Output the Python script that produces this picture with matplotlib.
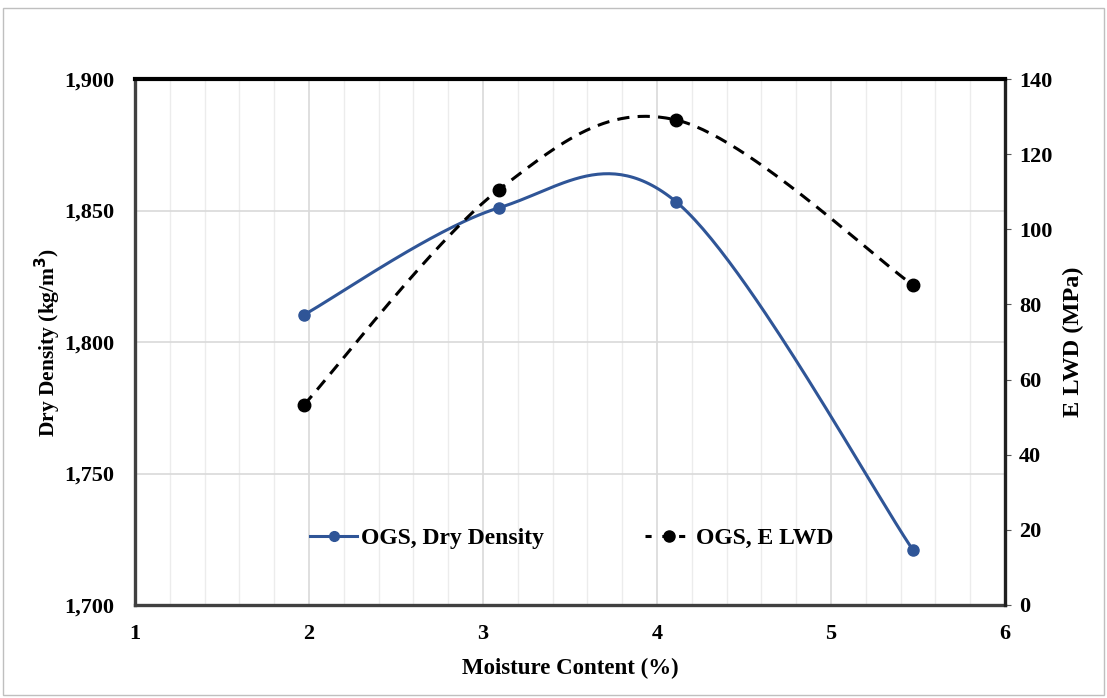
import numpy as np
import matplotlib.pyplot as plt
from matplotlib.patches import Rectangle
from matplotlib.lines import Line2D

# Datos
humedad_dd = [1.97, 3.09, 4.11, 5.47]
densidad_seca = [1810.3, 1851.0, 1853.3, 1721.0]
humedad_e = [1.97, 3.09, 4.11, 5.47]
e_lwd = [53.2, 110.5, 129.1, 85.2]

x_ticks = [1, 2, 3, 4, 5, 6]
y_izq_ticks = [1700, 1750, 1800, 1850, 1900]
y_der_ticks = [0, 20, 40, 60, 80, 100, 120, 140]


# Curva suavizada tipo Excel (Catmull-Rom -> Bezier)
def suavizar(x, y, n=60):
    p = np.column_stack([x, y]).astype(float)
    p = np.vstack([p[0], p, p[-1]])
    xs, ys = [], []
    t = np.linspace(0, 1, n)
    for i in range(1, len(p) - 2):
        p0, p1, p2, p3 = p[i - 1], p[i], p[i + 1], p[i + 2]
        c1 = p1 + (p2 - p0) / 6
        c2 = p2 - (p3 - p1) / 6
        b = ((1 - t) ** 3)[:, None] * p1 + (3 * (1 - t) ** 2 * t)[:, None] * c1 \
            + (3 * (1 - t) * t ** 2)[:, None] * c2 + (t ** 3)[:, None] * p2
        xs.extend(b[:, 0])
        ys.extend(b[:, 1])
    return xs, ys


plt.rcParams['font.family'] = ['Liberation Serif', 'DejaVu Serif']
plt.rcParams['font.weight'] = 'bold'

fig = plt.figure(figsize=(11.07, 6.98), dpi=100)
ax = fig.add_axes([135 / 1107, 1 - 605 / 698, 870 / 1107, 526 / 698])
ax2 = ax.twinx()

# borde del área del gráfico
fig.patches.append(Rectangle((3 / 1107, 0.005), 1 - 6 / 1107, 1 - 8 / 698 - 0.005,
                             transform=fig.transFigure, fill=False,
                             edgecolor='#bfbfbf', linewidth=1))

azul = '#2f5597'
xs, ys = suavizar(humedad_dd, densidad_seca)
ax.plot(xs, ys, color=azul, linewidth=2.2, zorder=3)
ax.plot(humedad_dd, densidad_seca, 'o', color=azul, markersize=8, zorder=4)

xs2, ys2 = suavizar(humedad_e, e_lwd)
ax2.plot(xs2, ys2, color='black', linewidth=2.2, linestyle=(0, (4, 2.7)), zorder=3)
ax2.plot(humedad_e, e_lwd, 'o', color='black', markersize=9, zorder=4)

ax.set_xlim(1, 6)
ax.set_ylim(1700, 1900)
ax2.set_ylim(0, 140)
ax.set_xticks(x_ticks)
ax.set_xticks(np.arange(1, 6.01, 0.2), minor=True)
ax.set_yticks(y_izq_ticks)
ax.set_yticklabels([f'{v:,}' for v in y_izq_ticks])
ax2.set_yticks(y_der_ticks)

ax.grid(True, which='major', color='#d9d9d9', linewidth=1.2)
ax.grid(True, which='minor', axis='x', color='#ececec', linewidth=1)
ax.set_axisbelow(True)

ax.tick_params(axis='both', which='both', length=0, labelsize=16)
ax.tick_params(axis='y', pad=15)
ax.tick_params(axis='x', pad=14)
ax2.tick_params(axis='y', length=4, labelsize=16, pad=6, color='#595959')

for s in ['left', 'bottom']:
    ax.spines[s].set_color('#404040')
    ax.spines[s].set_linewidth(2.4)
ax2.spines['top'].set_linewidth(3)
ax2.spines['top'].set_color('black')
ax2.spines['right'].set_linewidth(2.4)
ax2.spines['right'].set_color('#202020')
ax2.spines['left'].set_visible(False)
ax2.spines['bottom'].set_visible(False)

ax.set_xlabel('Moisture Content (%)', fontsize=16.5, fontweight='bold', labelpad=10)
ax.set_ylabel('Dry Density (kg/m$^\\mathbf{3}$)', fontsize=15.5, fontweight='bold', labelpad=1)
ax2.set_ylabel('E LWD (MPa)', fontsize=17.5, fontweight='bold', labelpad=8)

h1 = Line2D([], [], color=azul, linewidth=2.2, marker='o', markersize=7)
h2 = Line2D([], [], color='black', linewidth=2.2, linestyle=(0, (2, 3.5)), marker='o', markersize=8)
ax2.legend([h1, h2], ['OGS, Dry Density', 'OGS, E LWD'], loc='center',
           bbox_to_anchor=(0.502, 0.127), ncol=2, frameon=False, fontsize=17,
           handlelength=2.0, handletextpad=0.15, columnspacing=4.3)

fig.savefig('out.png', dpi=100)
